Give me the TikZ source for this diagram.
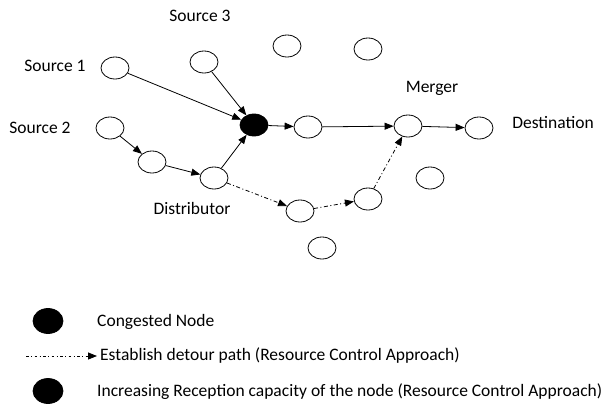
\documentclass[tikz,border=0pt]{standalone}
\usepackage{fontspec}
\setmainfont{Carlito}
\usetikzlibrary{positioning,shapes,arrows.meta}

\begin{document}
\begin{tikzpicture}[x=1pt, y=-1pt,
    nd/.style={draw, ellipse, minimum width=28pt, minimum height=22pt, inner sep=0pt, line width=0.8pt},
    cong/.style={nd, fill=black},
    lbl/.style={font=\fontsize{17.5}{20}\selectfont, inner sep=0pt},
    flow/.style={-{Triangle[length=9pt,width=7pt]}, line width=0.8pt},
    detour/.style={flow, dash pattern=on 4pt off 2.5pt on 1pt off 2.5pt}]
    \useasboundingbox (0,0) rectangle (608,407);
    % network
    \node[nd] (src1) at (115,68) {};
    \node[nd] (src3) at (204,62) {};
    \node[nd] (src2) at (110,128) {};
    \node[nd] (hop) at (152,162) {};
    \node[nd] (dist) at (214,178) {};
    \node[cong] (cng) at (254,125) {};
    \node[nd] (nxt) at (308,127) {};
    \node[nd] (merg) at (408,126) {};
    \node[nd] (dest) at (479,128) {};
    \node[nd] (det1) at (300,211) {};
    \node[nd] (det2) at (368,199) {};
    \node[nd] (idle1) at (287,46) {};
    \node[nd] (idle2) at (368,49) {};
    \node[nd] (idle3) at (430,178) {};
    \node[nd] (idle4) at (322,248) {};
    % labels
    \node[lbl] (lsrc3) at (200,16) {Source 3};
    \node[lbl] (lsrc1) at (55,66) {Source 1};
    \node[lbl] (lsrc2) at (40,128) {Source 2};
    \node[lbl] (ldist) at (192,208) {Distributor};
    \node[lbl] (lmerg) at (432,88) {Merger};
    \node[lbl] (ldest) at (553,123) {Destination};
    % main flow
    \draw[flow] (src1) -- (cng);
    \draw[flow] (src3) -- (cng);
    \draw[flow] (src2) -- (hop);
    \draw[flow] (hop) -- (dist);
    \draw[flow] (dist) -- (cng);
    \draw[flow] (cng) -- (nxt);
    \draw[flow] (nxt) -- (merg);
    \draw[flow] (merg) -- (dest);
    % detour
    \draw[detour] (dist) -- (det1);
    \draw[detour] (det1) -- (det2);
    \draw[detour] (det2) -- (merg);
    % key
    \node[cong, minimum width=30pt, minimum height=25pt] (keycng) at (48,321) {};
    \node[lbl, anchor=west] (keytxt1) at (97,322) {Congested Node};
    \coordinate (keystart) at (26,356);
    \node[lbl, anchor=west] (keytxt2) at (100,356) {Establish detour path (Resource Control Approach)};
    \draw[detour, dash pattern=on 2.5pt off 2.5pt on 1pt off 2.5pt] (keystart) -- ([xshift=-3pt]keytxt2.west);
    \node[cong, minimum width=30pt, minimum height=25pt] (keyrcp) at (48,391) {};
    \node[lbl, anchor=west] (keytxt3) at (97,392) {Increasing Reception capacity of the node (Resource Control Approach)};
\end{tikzpicture}
\end{document}
